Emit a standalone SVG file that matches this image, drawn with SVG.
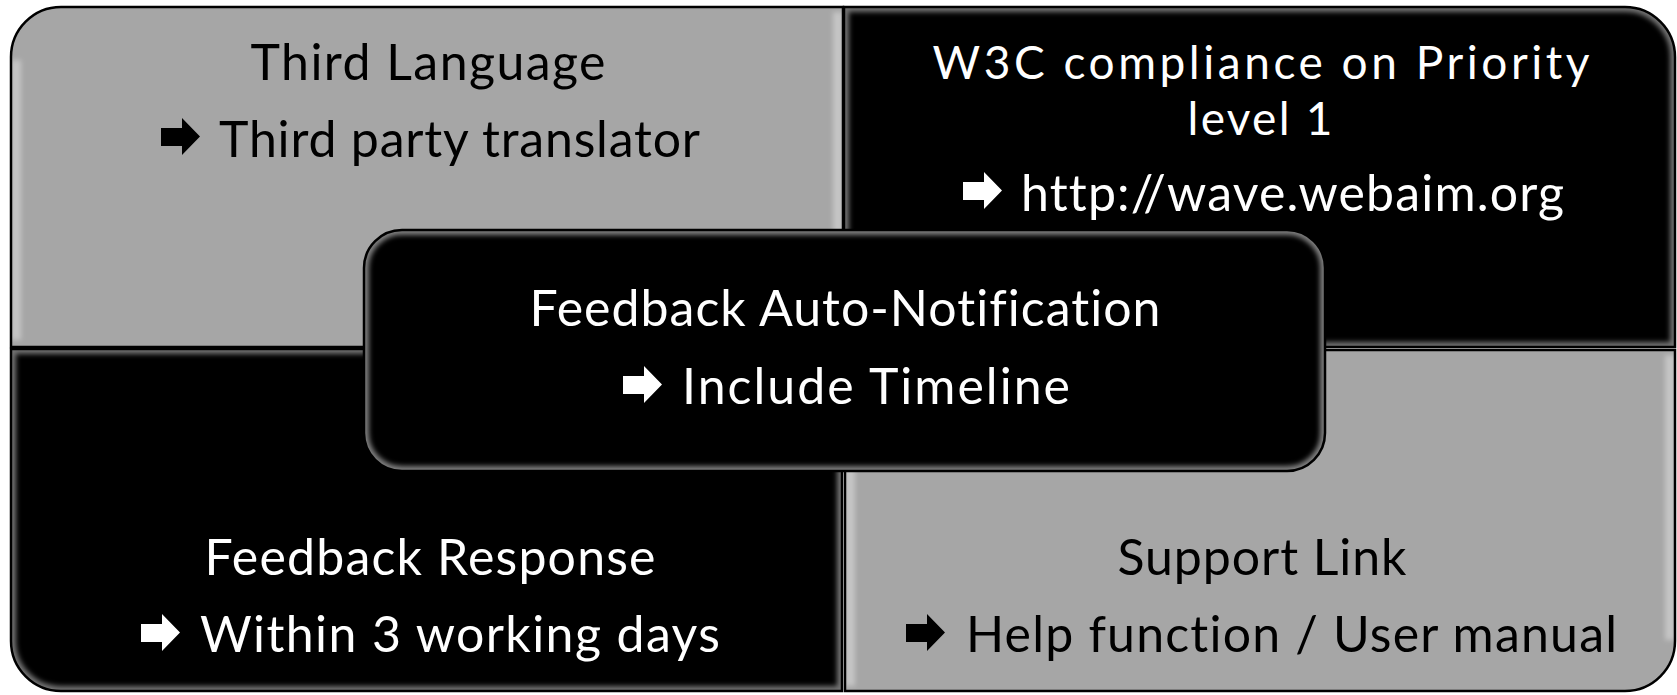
<svg xmlns="http://www.w3.org/2000/svg" width="1677" height="695" viewBox="0 0 1677 695">
<style>
.t{font-family:Lato,"Open Sans","Liberation Sans",sans-serif;font-size:50px;font-variant-ligatures:none;font-feature-settings:"liga" 0,"clig" 0}
.s{font-size:46px}
.dk{fill:#000}
.lt{fill:#fff}
.q{stroke:#000;stroke-width:2.5}
.g{fill:#a6a6a6}
.b{fill:#000}
.hl{fill:none;stroke:#fff;stroke-width:10;filter:url(#blur)}
</style>
<defs>
<filter id="blur" x="-5%" y="-5%" width="110%" height="110%"><feGaussianBlur stdDeviation="2.5"/></filter>
<path id="arr" d="M0,10 H21 V0 L39,18.5 L21,37 V28 H0 Z"/>
<path id="pTL" d="M11,347 V57 A50,50 0 0 1 61,7 H843 V347 Z"/>
<path id="pTR" d="M844,7 H1625 A50,50 0 0 1 1675,57 V347 H844 Z"/>
<path id="pBL" d="M11,349 H842 V691 H61 A50,50 0 0 1 11,641 Z"/>
<path id="pBR" d="M845,350 H1675 V641 A50,50 0 0 1 1625,691 H845 Z"/>
<path id="pC" d="M402,230 H1287 A38,38 0 0 1 1325,268 V433 A38,38 0 0 1 1287,471 H402 A38,38 0 0 1 364,433 V268 A38,38 0 0 1 402,230 Z"/>
<clipPath id="cTL"><use href="#pTL"/></clipPath>
<clipPath id="cTR"><use href="#pTR"/></clipPath>
<clipPath id="cBL"><use href="#pBL"/></clipPath>
<clipPath id="cBR"><use href="#pBR"/></clipPath>
<clipPath id="cC"><use href="#pC"/></clipPath>
</defs>
<g id="third-language">
<use href="#pTL" class="g"/>
<g clip-path="url(#cTL)"><path d="M60,18 H838" class="hl" stroke-opacity="0.9" stroke-width="7"/><path d="M16,60 V340 M838,12 V340" class="hl" stroke-opacity="0.35" stroke-width="6"/></g>
<use href="#pTL" fill="none" class="q"/>
<text class="t dk" x="428" y="80" text-anchor="middle" textLength="355">Third Language</text>
<use href="#arr" x="161" y="118" class="dk"/>
<text class="t dk" x="219" y="157" textLength="481">Third party translator</text>
</g>
<g id="w3c">
<use href="#pTR" class="b"/>
<g clip-path="url(#cTR)"><use href="#pTR" class="hl" stroke-opacity="0.45" stroke-width="14"/></g>
<use href="#pTR" fill="none" class="q"/>
<text class="t s lt" x="1261" y="79" text-anchor="middle" textLength="657">W3C compliance on Priority</text>
<text class="t s lt" x="1260" y="135" text-anchor="middle" textLength="145">level 1</text>
<use href="#arr" x="963" y="172" class="lt"/>
<text class="t lt" x="1021" y="211" textLength="543">http://wave.webaim.org</text>
</g>
<g id="feedback-response">
<use href="#pBL" class="b"/>
<g clip-path="url(#cBL)"><use href="#pBL" class="hl" stroke-opacity="0.45" stroke-width="14"/></g>
<use href="#pBL" fill="none" class="q"/>
<text class="t lt" x="430" y="575" text-anchor="middle" textLength="451">Feedback Response</text>
<use href="#arr" x="141" y="614" class="lt"/>
<text class="t lt" x="200" y="652" textLength="520">Within 3 working days</text>
</g>
<g id="support-link">
<use href="#pBR" class="g"/>
<g clip-path="url(#cBR)"><path d="M850,361 H1670" class="hl" stroke-opacity="0.9" stroke-width="7"/><path d="M850,355 V686 M1670,355 V640" class="hl" stroke-opacity="0.35" stroke-width="6"/></g>
<use href="#pBR" fill="none" class="q"/>
<text class="t dk" x="1262" y="575" text-anchor="middle" textLength="289">Support Link</text>
<use href="#arr" x="906" y="614" class="dk"/>
<text class="t dk" x="966" y="652" textLength="651">Help function / User manual</text>
</g>
<g id="feedback-auto-notification">
<use href="#pC" class="b"/>
<g clip-path="url(#cC)"><use href="#pC" class="hl" stroke-opacity="0.5" stroke-width="16"/></g>
<use href="#pC" fill="none" class="q"/>
<text class="t lt" x="845" y="326" text-anchor="middle" textLength="631">Feedback Auto-Notification</text>
<use href="#arr" x="623" y="366" class="lt"/>
<text class="t lt" x="682" y="404" textLength="388">Include Timeline</text>
</g>
<g id="connectors"></g>
</svg>
